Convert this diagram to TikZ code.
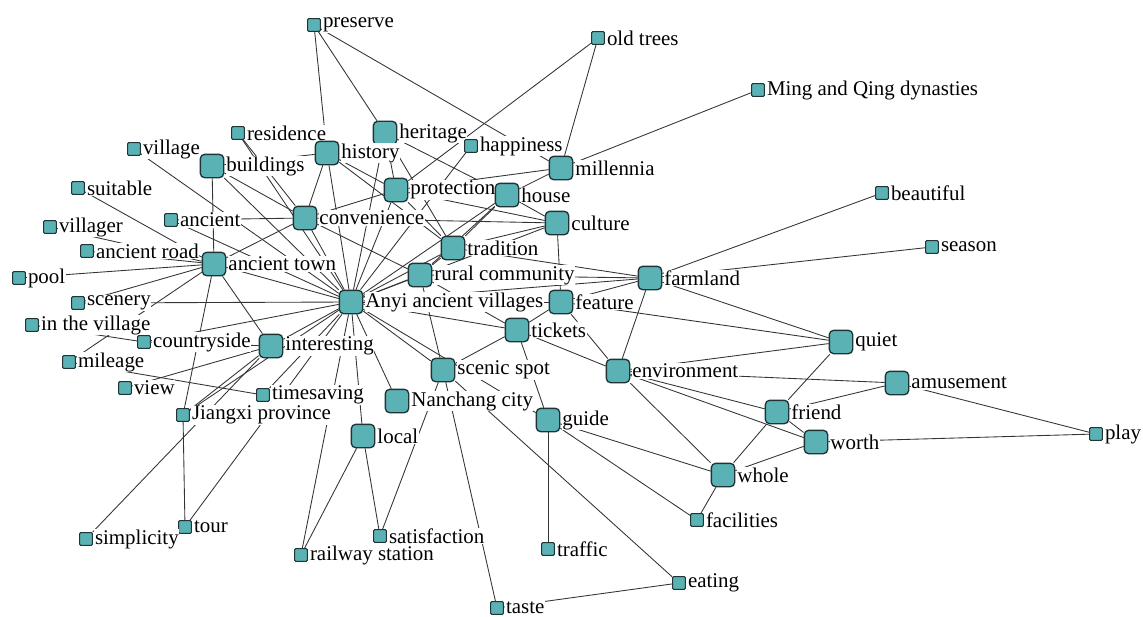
\documentclass[tikz,border=0pt]{standalone}
\usepackage{fontspec}
\setmainfont{Liberation Serif}
\usetikzlibrary{backgrounds}

\definecolor{nodeteal}{RGB}{90,178,180}
\definecolor{nodeline}{RGB}{30,52,54}
\definecolor{linkgray}{RGB}{52,52,52}

\begin{document}
\begin{tikzpicture}[x=0.75pt,y=-0.75pt,
    big/.style={draw=nodeline,fill=nodeteal,line width=1pt,rounded corners=3.2pt,
                minimum size=17.5pt,inner sep=0pt},
    leaf/.style={draw=nodeline,fill=nodeteal,line width=0.8pt,rounded corners=0.8pt,
                minimum size=9.5pt,inner sep=0pt},
    lbl/.style={font=\fontsize{15.7}{18}\selectfont,fill=white,inner sep=0.4pt,xshift=1pt},
    link/.style={draw=linkgray,line width=0.65pt}]
\useasboundingbox (0,0) rectangle (1143,617);

% top
\node[leaf,label={[lbl]right:preserve}] (preserve) at (314,25) {};
\node[leaf,label={[lbl]right:old trees}] (oldtrees) at (598,38) {};
\node[leaf,label={[lbl]right:Ming and Qing dynasties}] (ming) at (758,90) {};
\node[leaf,label={[lbl]right:residence}] (residence) at (238,133) {};
\node[big,label={[lbl]right:heritage}] (heritage) at (385,133) {};
\node[leaf,label={[lbl]right:happiness}] (happiness) at (471,146) {};
\node[leaf,label={[lbl]right:village}] (village) at (134,149) {};
\node[big,label={[lbl]right:buildings}] (buildings) at (212,166) {};
\node[big,label={[lbl]right:history}] (history) at (327,153) {};
\node[big,label={[lbl]right:millennia}] (millennia) at (561,168) {};
\node[leaf,label={[lbl]right:suitable}] (suitable) at (78,188) {};
\node[big,label={[lbl]right:protection}] (protection) at (396,190) {};
\node[big,label={[lbl]right:house}] (house) at (507,195) {};
\node[leaf,label={[lbl]right:beautiful}] (beautiful) at (882,193) {};

% middle band
\node[leaf,label={[lbl]right:ancient}] (ancient) at (171,220) {};
\node[big,label={[lbl]right:convenience}] (convenience) at (305,218) {};
\node[big,label={[lbl]right:culture}] (culture) at (557,223) {};
\node[leaf,label={[lbl]right:villager}] (villager) at (50,227) {};
\node[leaf,label={[lbl]right:ancient road}] (aroad) at (87,251) {};
\node[big,label={[lbl]right:tradition}] (tradition) at (453,248) {};
\node[leaf,label={[lbl]right:season}] (season) at (932,247) {};
\node[big,label={[lbl]right:ancient town}] (atown) at (214,264) {};
\node[leaf,label={[lbl]right:pool}] (pool) at (19,278) {};
\node[big,label={[lbl]right:rural community}] (rural) at (420,275) {};
\node[big,label={[lbl]right:farmland}] (farmland) at (650,278) {};
\node[leaf,label={[lbl]right:scenery}] (scenery) at (78,303) {};
\node[big,label={[lbl]right:Anyi ancient villages}] (anyi) at (351,302) {};
\node[big,label={[lbl]right:feature}] (feature) at (561,302) {};
\node[leaf,label={[lbl]right:in the village}] (invillage) at (32,325) {};
\node[big,label={[lbl]right:tickets}] (tickets) at (517,330) {};
\node[leaf,label={[lbl]right:countryside}] (countryside) at (144,342) {};
\node[big,label={[lbl]right:interesting}] (interesting) at (271,346) {};
\node[big,label={[lbl]right:quiet}] (quiet) at (841,342) {};
\node[leaf,label={[lbl]right:mileage}] (mileage) at (69,362) {};
\node[big,label={[lbl]right:environment}] (environment) at (618,371) {};
\node[big,label={[lbl]right:scenic spot}] (scenic) at (443,370) {};
\node[big,label={[lbl]right:amusement}] (amusement) at (897,383) {};
\node[leaf,label={[lbl]right:view}] (view) at (125,388) {};
\node[leaf,label={[lbl]right:Jiangxi province}] (jiangxi) at (183,415) {};
\node[leaf,label={[lbl]right:timesaving}] (timesaving) at (263,395) {};
\node[big,label={[lbl]right:Nanchang city}] (nanchang) at (397,401) {};
\node[big,label={[lbl]right:friend}] (friend) at (777,412) {};
\node[big,label={[lbl]right:guide}] (guide) at (548,420) {};
\node[leaf,label={[lbl]right:play}] (play) at (1096,434) {};
\node[big,label={[lbl]right:worth}] (worth) at (816,442) {};
\node[big,label={[lbl]right:local}] (local) at (363,436) {};
\node[big,label={[lbl]right:whole}] (whole) at (723,475) {};

% bottom
\node[leaf,label={[lbl]right:facilities}] (facilities) at (697,520) {};
\node[leaf,label={[lbl]right:tour}] (tour) at (185,527) {};
\node[leaf,label={[lbl]right:simplicity}] (simplicity) at (86,539) {};
\node[leaf,label={[lbl]right:railway station}] (railway) at (301,555) {};
\node[leaf,label={[lbl]right:satisfaction}] (satisfaction) at (380,536) {};
\node[leaf,label={[lbl]right:traffic}] (traffic) at (548,549) {};
\node[leaf,label={[lbl]right:eating}] (eating) at (679,583) {};
\node[leaf,label={[lbl]right:taste}] (taste) at (497,608) {};

% co-occurrence links
\begin{scope}[on background layer]
\foreach \a/\b in {preserve/history,preserve/heritage,preserve/millennia,
    oldtrees/millennia,oldtrees/protection,ming/millennia,
    residence/convenience,residence/anyi,
    heritage/house,heritage/protection,heritage/tradition,heritage/anyi,
    happiness/anyi,village/anyi,
    buildings/atown,buildings/convenience,buildings/anyi,buildings/history,
    history/convenience,history/anyi,history/protection,history/tradition,
    millennia/house,millennia/protection,suitable/atown,
    protection/convenience,protection/anyi,protection/tradition,protection/culture,
    house/culture,house/tradition,house/rural,house/anyi,
    beautiful/farmland,ancient/convenience,ancient/anyi,
    convenience/atown,convenience/anyi,convenience/culture,convenience/rural,
    culture/feature,culture/tradition,culture/anyi,
    villager/atown,aroad/atown,
    tradition/anyi,tradition/farmland,tradition/rural,season/farmland,
    atown/pool,atown/scenery,atown/anyi,atown/interesting,atown/jiangxi,atown/mileage,
    rural/anyi,rural/farmland,rural/tickets,rural/scenic,
    farmland/feature,farmland/environment,farmland/quiet,farmland/anyi,
    scenery/anyi,
    anyi/feature,anyi/tickets,anyi/scenic,anyi/nanchang,anyi/local,anyi/railway,
    anyi/timesaving,anyi/jiangxi,anyi/interesting,anyi/countryside,anyi/tour,anyi/guide,
    invillage/countryside,
    tickets/feature,tickets/scenic,tickets/guide,tickets/environment,
    countryside/interesting,interesting/view,interesting/simplicity,interesting/jiangxi,
    quiet/feature,quiet/environment,quiet/friend,mileage/timesaving,
    environment/feature,environment/amusement,environment/friend,environment/worth,
    environment/whole,
    scenic/satisfaction,scenic/taste,scenic/eating,
    amusement/friend,amusement/play,jiangxi/tour,
    friend/whole,friend/worth,
    guide/traffic,guide/facilities,guide/whole,
    play/worth,local/railway,local/satisfaction,
    whole/facilities,whole/worth,eating/taste}
  \draw[link] (\a) -- (\b);
\end{scope}
\end{tikzpicture}
\end{document}
